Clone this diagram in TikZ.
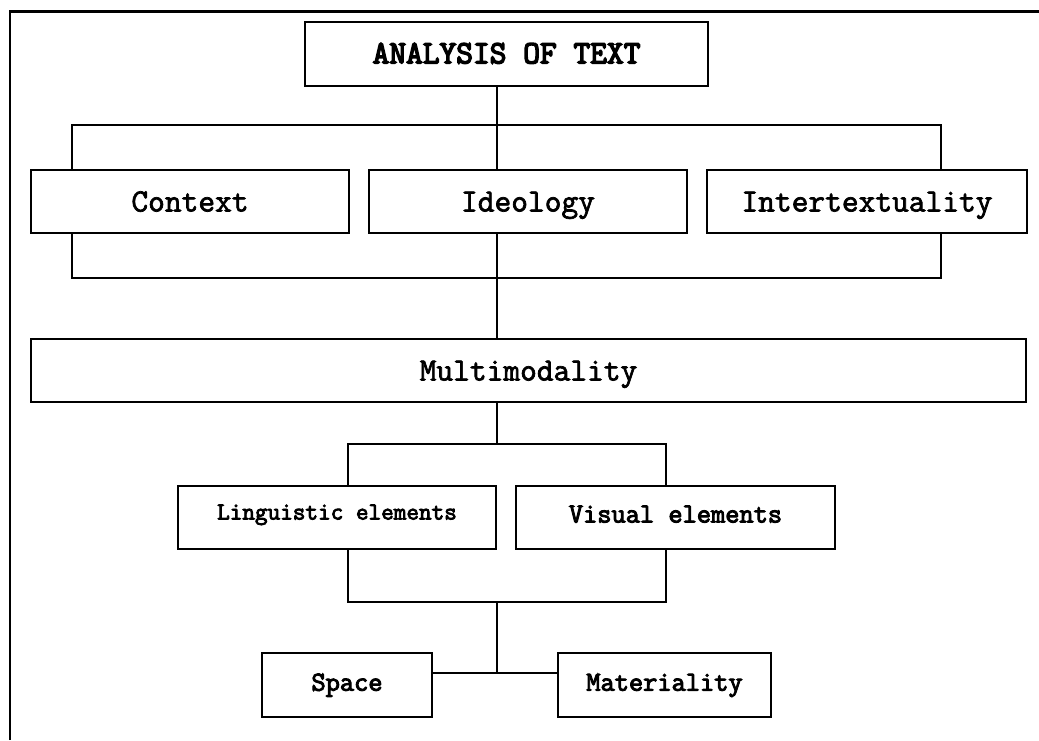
\documentclass[tikz,border=0pt]{standalone}
\usepackage{fontspec}
\newfontfamily\medmono{Latin Modern Mono}[FakeBold=2.2]
\newfontfamily\boldmono{Latin Modern Mono}[FakeBold=3.5]
\newfontfamily\heavymono{Latin Modern Mono}[FakeBold=4.5]
\begin{document}
\begin{tikzpicture}[x=1pt,y=-1pt,
  box/.style={draw,line width=2pt,rectangle,inner sep=0pt,anchor=center,text depth=0pt},
  bigtxt/.style={font=\medmono\fontsize{32.5}{36}\selectfont,text height=20pt},
  toptxt/.style={font=\heavymono\fontsize{32.5}{36}\selectfont,text height=18.6pt},
  smalltxt/.style={font=\boldmono\fontsize{27.6}{31}\selectfont,text height=11.4pt},
  link/.style={line width=2pt}]
\useasboundingbox (0,0) rectangle (1039,740);
\draw[line width=2.5pt] (10,740) -- (10,11.5) -- (1039,11.5);

\node[box,toptxt,minimum width=403pt,minimum height=64pt] (top) at (506.5,54) {ANALYSIS OF TEXT};
\node[box,bigtxt,minimum width=318pt,minimum height=63pt] (ctx) at (190,201.5) {Context};
\node[box,bigtxt,minimum width=318pt,minimum height=63pt] (ideo) at (528,201.5) {Ideology};
\node[box,bigtxt,minimum width=320pt,minimum height=63pt] (inter) at (867,201.5) {Intertextuality};
\node[box,bigtxt,minimum width=995pt,minimum height=63pt] (multi) at (528.5,370.5) {Multimodality};
\node[box,smalltxt,font=\boldmono\fontsize{24.5}{28}\selectfont,text height=4pt,minimum width=318pt,minimum height=63pt] (ling) at (337,517.5) {Linguistic elements};
\node[box,smalltxt,text height=10pt,minimum width=319pt,minimum height=63pt] (vis) at (675.5,517.5) {Visual elements};
\node[box,smalltxt,minimum width=170pt,minimum height=64pt] (space) at (347,685) {Space};
\node[box,smalltxt,minimum width=213pt,minimum height=64pt] (mat) at (664.5,685) {Materiality};

\coordinate (sx) at (497,0);
\coordinate (bl1) at (72,125);
\coordinate (br1) at (941,125);
\coordinate (bl2) at (72,278);
\coordinate (br2) at (941,278);
\coordinate (bl3) at (348,444);
\coordinate (br3) at (666,444);
\coordinate (bl4) at (348,602);
\coordinate (br4) at (666,602);
\coordinate (j) at (497,673);

\draw[link] (top.south -| sx) -- (ideo.north -| sx);
\draw[link] (ctx.north -| bl1) -- (bl1) -- (br1) -- (inter.north -| br1);
\draw[link] (ctx.south -| bl2) -- (bl2) -- (br2) -- (inter.south -| br2);
\draw[link] (ideo.south -| sx) -- (multi.north -| sx);
\draw[link] (multi.south -| sx) -- (bl3 -| sx);
\draw[link] (ling.north -| bl3) -- (bl3) -- (br3) -- (vis.north -| br3);
\draw[link] (ling.south -| bl4) -- (bl4) -- (br4) -- (vis.south -| br4);
\draw[link] (bl4 -| sx) -- (j);
\draw[link] (space.east |- j) -- (mat.west |- j);
\end{tikzpicture}
\end{document}
